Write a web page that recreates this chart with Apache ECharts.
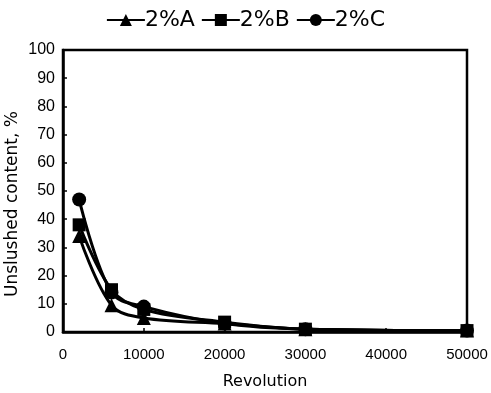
<!DOCTYPE html>
<html>
<head>
<meta charset="utf-8">
<script src="https://cdn.jsdelivr.net/npm/echarts@6/dist/echarts.min.js"></script>
<style>
  html, body { margin: 0; padding: 0; background: #fff; }
  #chart { width: 491px; height: 393px; }
</style>
</head>
<body>
<div id="chart"></div>
<script>
// Revolution (x) values and unslushed content (%) for each sample
const revolutions = [2000, 6000, 10000, 20000, 30000, 50000];
const seriesA = [34, 9.5, 5, 3, 1, 0.5];
const seriesB = [38, 15, 8, 3.5, 1, 0.5];
const seriesC = [47, 14, 9, 3, 1, 0.5];
const seriesNames = ['2%A', '2%B', '2%C'];
const symbols = ['triangle', 'rect', 'circle'];
const symbolSizes = [14, 13, 14];

const labelFont = 'Liberation Sans, Arial, sans-serif';
const nameFont = 'DejaVu Sans, sans-serif';
const allValues = [seriesA, seriesB, seriesC];

const chart = echarts.init(document.getElementById('chart'), null, { renderer: 'canvas' });

chart.setOption({
  animation: false,
  backgroundColor: '#fff',
  legend: {
    top: 4,
    left: 'center',
    itemWidth: 38,
    itemHeight: 15,
    itemGap: 6,
    textStyle: { fontFamily: nameFont, fontSize: 22, color: '#000', padding: [0, 0, 0, -5] },
    data: seriesNames
  },
  grid: {
    left: 63, right: 24, top: 50, bottom: 61,
    containLabel: false,
    outerBoundsMode: 'none',
    show: true, borderColor: '#000', borderWidth: 2.5
  },
  xAxis: {
    type: 'value',
    min: 0, max: 50000, interval: 10000,
    name: 'Revolution',
    nameLocation: 'middle',
    nameGap: 42,
    nameMoveOverlap: false,
    nameTextStyle: { fontFamily: nameFont, fontSize: 16, color: '#000' },
    axisLine: { lineStyle: { color: '#000', width: 2.5 } },
    axisTick: { inside: true, length: 4, lineStyle: { color: '#000', width: 1.5 } },
    axisLabel: {
      fontFamily: labelFont, fontSize: 15, color: '#000', margin: 15,
      formatter: v => String(v)
    },
    splitLine: { show: false }
  },
  yAxis: {
    type: 'value',
    min: 0, max: 100, interval: 10,
    name: 'Unslushed content, %',
    nameLocation: 'middle',
    nameGap: 42,
    nameMoveOverlap: false,
    nameTextStyle: { fontFamily: nameFont, fontSize: 17, color: '#000', padding: [0, 26, 0, 0] },
    axisLine: { lineStyle: { color: '#000', width: 2.5 } },
    axisTick: { inside: true, length: 4, lineStyle: { color: '#000', width: 1.5 } },
    axisLabel: { fontFamily: labelFont, fontSize: 16, color: '#000', margin: 8 },
    splitLine: { show: false }
  },
  series: seriesNames.map((name, i) => ({
    name,
    type: 'line',
    smooth: 0.35,
    symbol: symbols[i],
    symbolSize: symbolSizes[i],
    showAllSymbol: true,
    itemStyle: { color: '#000' },
    lineStyle: { color: '#000', width: 3 },
    data: revolutions.map((x, j) => [x, allValues[i][j]])
  }))
});
</script>
</body>
</html>
